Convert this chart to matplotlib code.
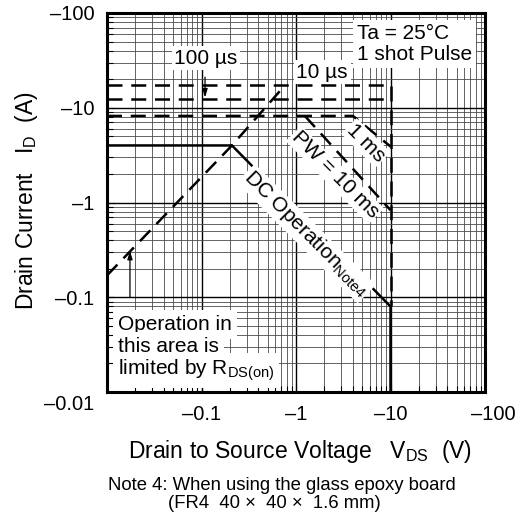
import matplotlib
matplotlib.use('Agg')
import matplotlib.pyplot as plt
from matplotlib.ticker import LogLocator, NullFormatter
import matplotlib.transforms as mtransforms

plt.rcParams['font.family'] = ['Liberation Sans', 'DejaVu Sans']
plt.rcParams['mathtext.default'] = 'regular'

# ---- data (magnitudes; the chart shows them as negative values) ----
x_ticks = [0.1, 1, 10, 100]
x_tick_labels = ['–0.1', '–1', '–10', '–100']
y_ticks = [0.01, 0.1, 1, 10, 100]
y_tick_labels = ['–0.01', '–0.1', '–1', '–10', '–100']

dc_v = [0.01, 0.21, 10, 10]
dc_i = [4.0, 4.0, 0.08, 0.01]

rds_v = [0.01, 0.21, 0.77]
rds_i = [0.17, 4.0, 17.4]

pw10us_v = [0.01, 10, 10]
pw10us_i = [17.4, 17.4, 0.08]

pw100us_v = [0.01, 10]
pw100us_i = [12.4, 12.4]

pw1ms_v = [0.01, 4.0, 10]
pw1ms_i = [8.2, 8.2, 3.9]

pw10ms_v = [1.24, 10]
pw10ms_i = [8.2, 0.83]

# ---- figure ----
W, H = 518, 521
fig = plt.figure(figsize=(W / 100, H / 100), dpi=100)
ax = fig.add_axes([107 / W, 1 - 392 / H, 378 / W, 379 / H])
ax.set_xscale('log')
ax.set_yscale('log')
ax.set_xlim(0.01, 100)
ax.set_ylim(0.01, 100)

ax.set_xticks(x_ticks)
ax.set_xticklabels(x_tick_labels)
ax.set_yticks(y_ticks)
ax.set_yticklabels(y_tick_labels)
for axis in (ax.xaxis, ax.yaxis):
    axis.set_minor_locator(LogLocator(base=10, subs=range(2, 10), numticks=20))
    axis.set_minor_formatter(NullFormatter())

ax.set_axisbelow(True)
ax.grid(which='major', color='black', lw=1.0)
ax.grid(which='minor', color='#4a4a4a', lw=0.6)
ax.tick_params(which='both', direction='in', top=False, right=False,
               labelsize=14.5, pad=9, width=0.8)
ax.tick_params(which='major', length=6)
ax.tick_params(which='minor', length=4)
for s in ax.spines.values():
    s.set_linewidth(2.2)

# label offsets
for lbl in ax.get_yticklabels():
    if lbl.get_text() == '–0.01':
        lbl.set_transform(lbl.get_transform() +
                          mtransforms.ScaledTranslation(0, -10 / 100, fig.dpi_scale_trans))
for lbl in ax.get_xticklabels():
    if lbl.get_text() == '–100':
        lbl.set_transform(lbl.get_transform() +
                          mtransforms.ScaledTranslation(8 / 100, 0, fig.dpi_scale_trans))

dash = (0, (6, 3.5))
lw = 1.8
ax.plot(dc_v, dc_i, color='black', lw=lw, solid_joinstyle='miter', zorder=2.6)
ax.plot(rds_v, rds_i, color='black', lw=lw, ls=dash, zorder=2.6)
ax.plot(pw10us_v, pw10us_i, color='black', lw=lw, ls=dash, zorder=2.6)
ax.plot(pw100us_v, pw100us_i, color='black', lw=lw, ls=dash, zorder=2.6)
ax.plot(pw1ms_v, pw1ms_i, color='black', lw=lw, ls=dash, zorder=2.6)
ax.plot(pw10ms_v, pw10ms_i, color='black', lw=lw, ls=dash, zorder=2.6)

# arrows
ax.annotate('', xy=(0.109, 12.8), xytext=(0.109, 21),
            arrowprops=dict(arrowstyle='-|>,head_length=0.5,head_width=0.15',
                            lw=0.9, color='black', shrinkA=0, shrinkB=0), zorder=4)
ax.annotate('', xy=(0.0175, 0.31), xytext=(0.0175, 0.1),
            arrowprops=dict(arrowstyle='-|>,head_length=0.5,head_width=0.15',
                            lw=0.9, color='black', shrinkA=0, shrinkB=0), zorder=4)

wb = dict(facecolor='white', edgecolor='none', pad=2)
tA = ax.transAxes
fs = 15
ax.text(0.661, 0.918, 'Ta = 25°C\n1 shot Pulse', transform=tA, ha='left', va='center',
        fontsize=fs, linespacing=1.1, bbox=dict(facecolor='white', edgecolor='none', pad=3), zorder=3)
ax.text(0.262, 0.881, '100 µs', transform=tA, ha='center', va='center', fontsize=fs, bbox=wb, zorder=3)
ax.text(0.569, 0.844, '10 µs', transform=tA, ha='center', va='center', fontsize=fs, bbox=wb, zorder=3)

ax.text(0.029, 0.1636, 'Operation in', transform=tA, ha='left', va='baseline', fontsize=fs,
        bbox=dict(facecolor='white', edgecolor='none', pad=3.5), zorder=3)
ax.text(0.029, 0.1055, 'this area is', transform=tA, ha='left', va='baseline', fontsize=fs,
        bbox=dict(facecolor='white', edgecolor='none', pad=3.5), zorder=3)
ax.text(0.029, 0.0449, 'limited by R$_{DS(on)}$', transform=tA, ha='left', va='baseline', fontsize=fs,
        bbox=dict(facecolor='white', edgecolor='none', pad=3.5), zorder=3)

rb = dict(facecolor='white', edgecolor='none', pad=1)
ax.text(0.527, 0.418, 'DC Operation$_{Note4}$', transform=tA, ha='center', va='center',
        rotation=-45, rotation_mode='anchor', fontsize=fs, bbox=rb, zorder=3)
ax.text(0.685, 0.657, '1 ms', transform=tA, ha='center', va='center',
        rotation=-45, rotation_mode='anchor', fontsize=fs, bbox=rb, zorder=3)
ax.text(0.603, 0.573, 'PW = 10 ms', transform=tA, ha='center', va='center',
        rotation=-45, rotation_mode='anchor', fontsize=fs, bbox=rb, zorder=3)

# axis titles and note
fig.text(300 / W, 1 - 458 / H, 'Drain to Source Voltage   V$_{DS}$  (V)', ha='center',
         va='baseline', fontsize=16.5)
fig.text(33 / W, 1 - 201 / H, 'Drain Current   I$_{D}$  (A)', ha='center', va='baseline',
         rotation=90, rotation_mode='anchor', fontsize=16.5)
fig.text(108 / W, 1 - 485 / H, 'Note 4: When using the glass epoxy board', ha='left',
         va='center', fontsize=13.3)
fig.text(168 / W, 1 - 504 / H, '(FR4  40 ×  40 ×  1.6 mm)', ha='left', va='center', fontsize=13.3)

fig.savefig('out.png', dpi=100)
